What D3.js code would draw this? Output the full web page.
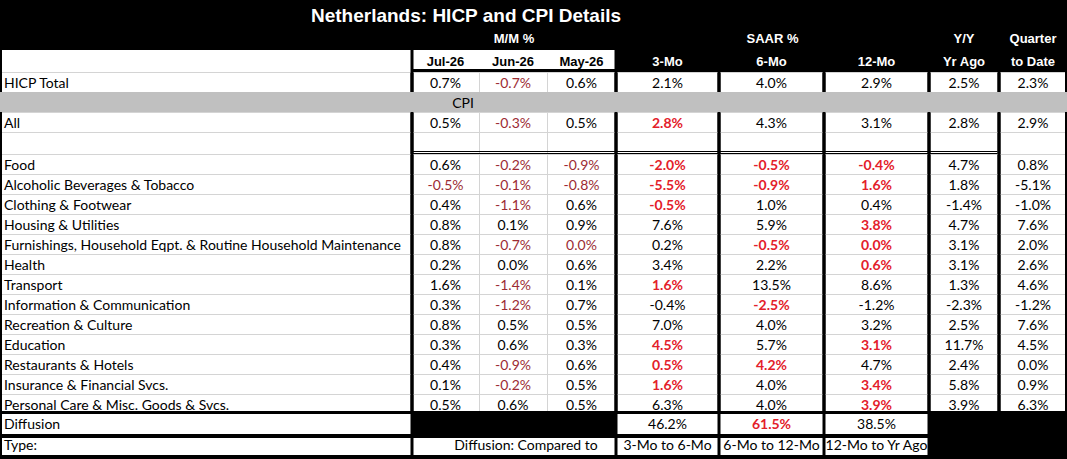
<!DOCTYPE html>
<html>
<head>
<meta charset="utf-8">
<script src="https://cdn.jsdelivr.net/npm/d3@7"></script>
<style>
  body { margin: 0; background: #000; }
  svg { display: block; }
</style>
</head>
<body>
<div id="table"></div>
<script>
// ---- data ----
const title = "Netherlands: HICP and CPI Details";
const rowLabels = [
  "HICP Total", "All",
  "Food", "Alcoholic Beverages & Tobacco", "Clothing & Footwear", "Housing & Utilities",
  "Furnishings, Household Eqpt. & Routine Household Maintenance", "Health", "Transport",
  "Information & Communication", "Recreation & Culture", "Education", "Restaurants & Hotels",
  "Insurance & Financial Svcs.", "Personal Care & Misc. Goods & Svcs."
];
const mmHeads = ["Jul-26", "Jun-26", "May-26"];
const saarHeads = ["3-Mo", "6-Mo", "12-Mo"];

// M/M %
const jul = [0.7, 0.5, 0.6, -0.5, 0.4, 0.8, 0.8, 0.2, 1.6, 0.3, 0.8, 0.3, 0.4, 0.1, 0.5];
const jun = [-0.7, -0.3, -0.2, -0.1, -1.1, 0.1, -0.7, 0.0, -1.4, -1.2, 0.5, 0.6, -0.9, -0.2, 0.6];
// furnishings May shows 0.0% but in red, so it is a small negative
const may = [0.6, 0.5, -0.9, -0.8, 0.6, 0.9, -0.04, 0.6, 0.1, 0.7, 0.5, 0.3, 0.6, 0.5, 0.5];
// SAAR %
const mo3 = [2.1, 2.8, -2.0, -5.5, -0.5, 7.6, 0.2, 3.4, 1.6, -0.4, 7.0, 4.5, 0.5, 1.6, 6.3];
const mo6 = [4.0, 4.3, -0.5, -0.9, 1.0, 5.9, -0.5, 2.2, 13.5, -2.5, 4.0, 5.7, 4.2, 4.0, 4.0];
const mo12 = [2.9, 3.1, -0.4, 1.6, 0.4, 3.8, 0.0, 0.6, 8.6, -1.2, 3.2, 3.1, 4.7, 3.4, 3.9];
// Y/Y and quarter to date
const yrAgo = [2.5, 2.8, 4.7, 1.8, -1.4, 4.7, 3.1, 3.1, 1.3, -2.3, 2.5, 11.7, 2.4, 5.8, 3.9];
const qtd = [2.3, 2.9, 0.8, -5.1, -1.0, 7.6, 2.0, 2.6, 4.6, -1.2, 7.6, 4.5, 0.0, 0.9, 6.3];

const diffusion = [46.2, 61.5, 38.5];
const diffusionTypes = ["3-Mo to 6-Mo", "6-Mo to 12-Mo", "12-Mo to Yr Ago"];

// ---- layout ----
const width = 1067, height = 459;
const bodyFont = "Lato, 'Noto Sans', sans-serif";
const bodySize = "14px";
const headFont = "'Liberation Sans', Arial, sans-serif";
const darkRed = "#9c2b33", brightRed = "#e3202a", grid = "#d4d4d4";

const colKeys = ["jul", "jun", "may", "mo3", "mo6", "mo12", "yrAgo", "qtd"];
const series = { jul, jun, may, mo3, mo6, mo12, yrAgo, qtd };
const edges = [412, 479, 547, 616, 719, 824, 929, 999, 1067];
const xLeft = d3.scaleOrdinal().domain(colKeys).range(edges.slice(0, -1));
const xRight = d3.scaleOrdinal().domain(colKeys).range(edges.slice(1));
const xMid = k => (xLeft(k) + xRight(k)) / 2;

const categories = rowLabels.slice(2);
const yCat = d3.scaleBand().domain(categories).range([153.5, 413.5]);
// rows above the categories: HICP, CPI banner, All, blank
const topRows = { hicp: 72, cpi: 92, all: 112, blank: 132 };
const rowTop = i => i === 0 ? topRows.hicp : i === 1 ? topRows.all : yCat(rowLabels[i]);

const locale = d3.formatLocale({ decimal: ".", thousands: ",", grouping: [3], currency: ["", ""], minus: "-" });
const f1 = locale.format(".1f");
const pct = v => f1(v) + "%";

function cellStyle(key, i) {
  const v = series[key][i];
  if (key === "jul" || key === "jun" || key === "may") {
    return v < 0 ? { fill: darkRed, weight: "normal" } : { fill: "#000", weight: "normal" };
  }
  if (i > 0 && (key === "mo3" || key === "mo6" || key === "mo12")) {
    const next = { mo3: mo6, mo6: mo12, mo12: yrAgo }[key][i];
    if (v <= next) return { fill: brightRed, weight: "bold" };
  }
  return { fill: "#000", weight: "normal" };
}

const svg = d3.select("#table").append("svg")
  .attr("width", width)
  .attr("height", height);

svg.append("rect").attr("width", width).attr("height", height).attr("fill", "#000");

// title
svg.append("text")
  .attr("x", 466).attr("y", 21.5)
  .attr("text-anchor", "middle")
  .attr("fill", "#fff")
  .style("font-family", headFont)
  .style("font-size", "19px")
  .style("font-weight", "bold")
  .text(title);

// header row 1
const head1 = [
  { t: "M/M %", x: (xLeft("jul") + xRight("may")) / 2 },
  { t: "SAAR %", x: (xLeft("mo3") + xRight("mo12")) / 2 },
  { t: "Y/Y", x: xMid("yrAgo") },
  { t: "Quarter", x: xMid("qtd") }
];
svg.selectAll(".h1").data(head1).enter().append("text")
  .attr("x", d => d.x).attr("y", 43)
  .attr("text-anchor", "middle")
  .attr("fill", "#fff")
  .style("font-family", headFont).style("font-size", "13px").style("font-weight", "bold")
  .text(d => d.t);

// header row 2 background (label + M/M)
svg.append("rect").attr("x", 2).attr("y", 50).attr("width", xRight("may") - 1.5 - 2).attr("height", 22).attr("fill", "#fff");

// body blocks
const blocks = [[2, 410.5, 50]].concat(
  [["jul", "may"], ["mo3", "mo3"], ["mo6", "mo6"], ["mo12", "mo12"], ["yrAgo", "yrAgo"], ["qtd", "qtd"]]
    .map(([a, b]) => [xLeft(a) + 1.5, b === "qtd" ? 1065 : xRight(b) - 1.5, 72]));
svg.selectAll(".block").data(blocks).enter().append("rect")
  .attr("x", d => d[0]).attr("y", d => d[2])
  .attr("width", d => d[1] - d[0]).attr("height", d => 411 - d[2])
  .attr("fill", "#fff");

// thin grid lines
const hLines = [72, topRows.all, topRows.blank].concat(categories.slice(1).map(c => yCat(c)), [yCat(categories[0])]);
svg.selectAll(".hl").data(hLines).enter().append("line")
  .attr("x1", 0).attr("x2", width)
  .attr("y1", d => Math.round(d) + 0.5).attr("y2", d => Math.round(d) + 0.5)
  .attr("stroke", grid).attr("stroke-width", 1);
svg.selectAll(".vl").data(["jun", "may"]).enter().append("line")
  .attr("x1", d => xLeft(d) + 0.5).attr("x2", d => xLeft(d) + 0.5)
  .attr("y1", 72).attr("y2", 411)
  .attr("stroke", grid);

// thick separators
svg.append("rect").attr("x", xLeft("jul")).attr("y", 69).attr("width", xRight("may") - xLeft("jul")).attr("height", 3).attr("fill", "#000");
const thick = [edges[0], edges[3], edges[4], edges[5], edges[6], edges[7]];
svg.selectAll(".vt").data(thick).enter().append("rect")
  .attr("x", d => d - 1.5).attr("y", d => d === edges[0] ? 50 : 72)
  .attr("width", 3).attr("height", d => 411 - (d === edges[0] ? 50 : 72))
  .attr("fill", "#000");
svg.append("rect").attr("x", 0).attr("y", 0).attr("width", 2).attr("height", height).attr("fill", "#000");
svg.append("rect").attr("x", 1065).attr("y", 0).attr("width", 2).attr("height", height).attr("fill", "#000");

// CPI banner
svg.append("rect").attr("x", 0).attr("y", topRows.cpi).attr("width", width).attr("height", 20).attr("fill", "#c0c0c0");
svg.append("text").attr("x", 463).attr("y", topRows.cpi + 16)
  .attr("text-anchor", "middle")
  .style("font-family", bodyFont).style("font-size", bodySize)
  .text("CPI");

// double line under the blank row
[151.5, 153.5].forEach(y => {
  svg.append("line").attr("x1", xLeft("jul")).attr("x2", xRight("yrAgo") - 1.5)
    .attr("y1", y).attr("y2", y).attr("stroke", "#000").attr("stroke-width", 1);
});

// header row 2 texts
const head2 = mmHeads.map((t, i) => ({ t, k: colKeys[i], c: "#000" }))
  .concat(saarHeads.map((t, i) => ({ t, k: colKeys[i + 3], c: "#fff" })))
  .concat([{ t: "Yr Ago", k: "yrAgo", c: "#fff" }, { t: "to Date", k: "qtd", c: "#fff" }]);
svg.selectAll(".h2").data(head2).enter().append("text")
  .attr("x", d => xMid(d.k)).attr("y", 65.5)
  .attr("text-anchor", "middle")
  .attr("fill", d => d.c)
  .style("font-family", headFont).style("font-size", "13px").style("font-weight", "bold")
  .text(d => d.t);

// row labels
svg.selectAll(".lab").data(rowLabels).enter().append("text")
  .attr("x", 4).attr("y", (d, i) => rowTop(i) + 16)
  .style("font-family", bodyFont).style("font-size", bodySize)
  .attr("fill", "#000")
  .text(d => d);

// values
const cells = [];
rowLabels.forEach((r, i) => colKeys.forEach(k => cells.push({ k, i, v: series[k][i], s: cellStyle(k, i) })));
svg.selectAll(".val").data(cells).enter().append("text")
  .attr("x", d => xMid(d.k)).attr("y", d => rowTop(d.i) + 16)
  .attr("text-anchor", "middle")
  .attr("fill", d => d.s.fill)
  .style("font-family", bodyFont).style("font-size", bodySize)
  .style("font-weight", d => d.s.weight)
  .text(d => pct(d.v));

// diffusion + type rows
const dTop = 414, dH = 20, tTop = 438, tH = 17;
svg.append("rect").attr("x", 2).attr("y", dTop).attr("width", 408.5).attr("height", dH).attr("fill", "#fff");
svg.append("rect").attr("x", 2).attr("y", tTop).attr("width", 408.5).attr("height", tH).attr("fill", "#fff");
svg.append("rect").attr("x", xLeft("jul") + 1.5).attr("y", tTop).attr("width", xRight("may") - xLeft("jul") - 3).attr("height", tH).attr("fill", "#fff");
const sKeys = ["mo3", "mo6", "mo12"];
svg.selectAll(".dcell").data(sKeys).enter().append("rect")
  .attr("x", d => xLeft(d) + 1.5).attr("y", dTop)
  .attr("width", d => xRight(d) - xLeft(d) - 3).attr("height", dH).attr("fill", "#fff");
svg.selectAll(".tcell").data(sKeys).enter().append("rect")
  .attr("x", d => xLeft(d) + 1.5).attr("y", tTop)
  .attr("width", d => xRight(d) - xLeft(d) - 3).attr("height", tH).attr("fill", "#fff");

svg.append("text").attr("x", 4).attr("y", 429)
  .style("font-family", bodyFont).style("font-size", bodySize).text("Diffusion");
svg.append("text").attr("x", 4).attr("y", 449.5)
  .style("font-family", bodyFont).style("font-size", bodySize).text("Type:");
svg.append("text").attr("x", 526).attr("y", 449.5)
  .attr("text-anchor", "middle")
  .style("font-family", bodyFont).style("font-size", bodySize).text("Diffusion: Compared to");
svg.selectAll(".dval").data(diffusion).enter().append("text")
  .attr("x", (d, i) => xMid(sKeys[i])).attr("y", 429)
  .attr("text-anchor", "middle")
  .attr("fill", d => d > 50 ? brightRed : "#000")
  .style("font-weight", d => d > 50 ? "bold" : "normal")
  .style("font-family", bodyFont).style("font-size", bodySize)
  .text(d => pct(d));
svg.selectAll(".tval").data(diffusionTypes).enter().append("text")
  .attr("x", (d, i) => xMid(sKeys[i])).attr("y", 449.5)
  .attr("text-anchor", "middle")
  .style("font-family", bodyFont).style("font-size", bodySize)
  .text(d => d);
</script>
</body>
</html>
